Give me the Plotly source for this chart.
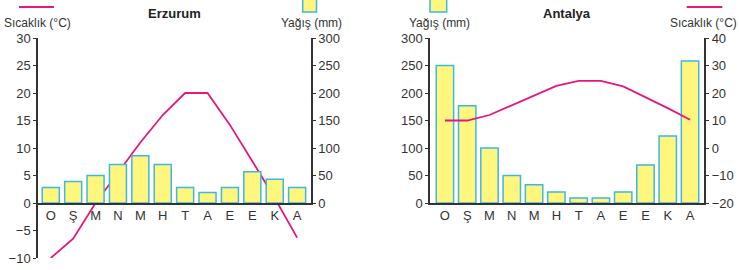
import plotly.graph_objects as go

months = ["O", "Ş", "M", "N", "M ", "H", "T", "A", "E", "E ", "K", "A "]
month_labels = ["O", "Ş", "M", "N", "M", "H", "T", "A", "E", "E", "K", "A"]

erz_rain = [28, 39, 50, 70, 86, 70, 28, 19, 28, 57, 43, 28]
erz_temp = [-10, -6.5, 0, 5.5, 11, 16, 20, 20, 14.2, 7.6, 0.9, -6.3]

ant_rain = [250, 177, 100, 50, 33, 20, 9, 9, 20, 69, 122, 258]
ant_temp = [10, 10, 12, 15.5, 19, 22.6, 24.4, 24.4, 22.4, 18.5, 14.5, 10.3]

W, H = 739, 270
YELLOW = "#FFF67E"
CYAN = "#3DB8E6"
PINK = "#E6177F"
AX = "#333333"
FONT = "Liberation Sans, Arial, sans-serif"

def px(x):
    return x / W

def py(y):
    return 1 - y / H

top = py(38)
base = py(203)
bot = py(258)

fig = go.Figure()

# Erzurum
fig.add_trace(go.Bar(x=months, y=erz_rain, xaxis="x", yaxis="y2", width=0.76,
                     marker=dict(color=YELLOW, line=dict(color=CYAN, width=1.5)),
                     showlegend=False))
fig.add_trace(go.Scatter(x=months, y=erz_temp, xaxis="x", yaxis="y", mode="lines",
                         line=dict(color=PINK, width=1.8), showlegend=False))
# Antalya
fig.add_trace(go.Bar(x=months, y=ant_rain, xaxis="x2", yaxis="y3", width=0.78,
                     marker=dict(color=YELLOW, line=dict(color=CYAN, width=1.5)),
                     showlegend=False))
fig.add_trace(go.Scatter(x=months, y=ant_temp, xaxis="x2", yaxis="y4", mode="lines",
                         line=dict(color=PINK, width=1.8), showlegend=False))

tickfont = dict(family=FONT, size=13, color=AX)
common_y = dict(showline=True, linecolor=AX, linewidth=1.5, ticks="outside",
                ticklen=3, tickcolor=AX, tickwidth=1.2, showgrid=False,
                zeroline=False, tickfont=tickfont, fixedrange=True, automargin=False)
common_x = dict(type="category", showline=True, linecolor=AX, linewidth=1.5,
                ticks="", showgrid=False, zeroline=False, tickfont=tickfont,
                tickvals=months, ticktext=month_labels, automargin=False)

fig.update_layout(
    width=W, height=H, margin=dict(l=0, r=0, t=0, b=0, autoexpand=False),
    paper_bgcolor="white", plot_bgcolor="rgba(0,0,0,0)",
    font=dict(family=FONT, color=AX),
    xaxis=dict(domain=[px(38), px(311)], range=[-0.57, 11.62], anchor="y2", **common_x),
    yaxis=dict(domain=[bot, top], range=[-10, 30], tickvals=list(range(-10, 31, 5)),
               anchor="x", side="left", **common_y),
    yaxis2=dict(domain=[base, top], range=[0, 300], tickvals=list(range(0, 301, 50)),
                anchor="x", side="right", **common_y),
    xaxis2=dict(domain=[px(430), px(704.3)], range=[-0.67, 11.64], anchor="y3", **common_x),
    yaxis3=dict(domain=[base, top], range=[0, 300], tickvals=list(range(0, 301, 50)),
                anchor="x2", side="left", **common_y),
    yaxis4=dict(range=[-20, 40], tickvals=list(range(-20, 41, 10)),
                anchor="x2", side="right", overlaying="y3", **common_y),
)

ann_font = dict(family=FONT, size=12, color=AX)
title_font = dict(family=FONT, size=13, color="#222222")
annotations = [
    dict(text="<b>Erzurum</b>", x=px(174.5), y=py(13), xanchor="center", yanchor="middle", font=title_font),
    dict(text="<b>Antalya</b>", x=px(567), y=py(13), xanchor="center", yanchor="middle", font=title_font),
    dict(text="Sıcaklık (°C)", x=px(2), y=py(23), xanchor="left", yanchor="middle", font=ann_font),
    dict(text="Yağış (mm)", x=px(311.5), y=py(23), xanchor="center", yanchor="middle", font=ann_font),
    dict(text="Yağış (mm)", x=px(439), y=py(23), xanchor="center", yanchor="middle", font=ann_font),
    dict(text="Sıcaklık (°C)", x=px(739), y=py(23), xanchor="right", yanchor="middle", font=ann_font),
]
for a in annotations:
    a.update(xref="paper", yref="paper", showarrow=False)
fig.update_layout(annotations=annotations)

shapes = [
    dict(type="line", x0=px(19), x1=px(54), y0=py(7), y1=py(7), line=dict(color=PINK, width=2)),
    dict(type="line", x0=px(686.7), x1=px(722.3), y0=py(7), y1=py(7), line=dict(color=PINK, width=2)),
    dict(type="rect", x0=px(302.7), x1=px(316.5), y0=py(12), y1=py(-1),
         fillcolor=YELLOW, line=dict(color=CYAN, width=1.5)),
    dict(type="rect", x0=px(430), x1=px(446.7), y0=py(12), y1=py(-1),
         fillcolor=YELLOW, line=dict(color=CYAN, width=1.5)),
]
for s in shapes:
    s.update(xref="paper", yref="paper")
fig.update_layout(shapes=shapes)

fig.write_html("out.html", config=dict(displayModeBar=False),
               post_script="document.body.style.margin='0';document.body.style.overflow='hidden';")
